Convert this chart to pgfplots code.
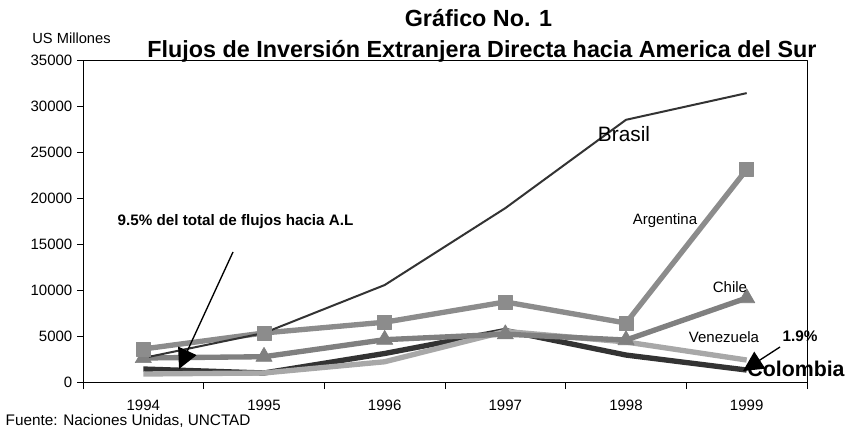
\documentclass[border=0pt]{standalone}
\usepackage{pgfplots}
\pgfplotsset{compat=1.18}
\usepackage{fontspec}
\setmainfont{Liberation Sans}
\usetikzlibrary{arrows.meta}
\definecolor{cdark}{HTML}{333333}
\definecolor{carg}{HTML}{8C8C8C}
\definecolor{cchi}{HTML}{808080}
\definecolor{cven}{HTML}{A8A8A8}
\begin{document}
\begin{tikzpicture}[x=0.75pt,y=0.75pt]
\path[use as bounding box] (0,0) rectangle (847,429);
\begin{axis}[at={(62.25pt,35.25pt)}, anchor=south west, scale only axis,
  width=543pt, height=241.5pt,
  xmin=1993.5, xmax=1999.5, ymin=0, ymax=35000,
  xtick={1994,1995,1996,1997,1998,1999},
  xticklabels={1994,1995,1996,1997,1998,1999},
  minor xtick={1993.5,1994.5,1995.5,1996.5,1997.5,1998.5,1999.5},
  major x tick style={draw=none},
  ytick={0,5000,10000,15000,20000,25000,30000,35000},
  scaled y ticks=false,
  yticklabel style={/pgf/number format/1000 sep={}},
  /pgf/number format/assume math mode=true,
  tick align=outside, tick pos=left,
  major tick length=4.5pt, minor tick length=5.25pt,
  axis line style={black, line width=0.75pt},
  tick style={black, line width=0.75pt},
  tick label style={font=\fontsize{11.25}{13}\selectfont},
  xticklabel style={yshift=-5.5pt},
  line join=round,
]
\addplot[cdark, line width=4pt, no markers] coordinates {(1994,1410) (1995,980) (1996,3100) (1997,5600) (1998,2930) (1999,1300)};
\addplot[cven, line width=4pt, no markers] coordinates {(1994,870) (1995,980) (1996,2200) (1997,5500) (1998,4350) (1999,2390)};
\addplot[cchi, line width=4pt, mark=triangle*, mark size=7pt, mark options={solid, fill=cchi, draw=cchi, line width=0.5pt}] coordinates {(1994,2610) (1995,2750) (1996,4600) (1997,5200) (1998,4560) (1999,9130)};
\addplot[carg, line width=4pt, mark=square*, mark size=5.25pt, mark options={solid, fill=carg, draw=carg, line width=0.5pt}] coordinates {(1994,3590) (1995,5330) (1996,6500) (1997,8700) (1998,6410) (1999,23100)};
\addplot[cdark, line width=1.5pt, no markers] coordinates {(1994,2610) (1995,5330) (1996,10540) (1997,18900) (1998,28500) (1999,31400)};
\end{axis}
% titles
\node[anchor=base, font=\bfseries\fontsize{17.5}{20}\selectfont] at (478.5,402) {Gráfico No. 1};
\node[anchor=base, font=\bfseries\fontsize{17.5}{20}\selectfont] at (482,371) {Flujos de Inversión Extranjera Directa hacia America del Sur};
\node[anchor=base, font=\fontsize{11}{13}\selectfont] at (71.5,385) {US Millones};
\node[anchor=base west, font=\fontsize{11.5}{13}\selectfont] at (1,4) {Fuente: Naciones Unidas, UNCTAD};
% annotations
\node[anchor=base west, font=\bfseries\fontsize{11.4}{13}\selectfont] at (113,203) {9.5\% del total de flujos hacia A.L};
\draw[line width=1pt, -{Triangle[length=15pt,width=15pt]}] (233,177) -- (179,60);
\node[anchor=base, font=\fontsize{15.6}{18}\selectfont] at (624,287) {Brasil};
\node[anchor=base, font=\fontsize{11.25}{13}\selectfont] at (665,204) {Argentina};
\node[anchor=base, font=\fontsize{11.25}{13}\selectfont] at (730,136) {Chile};
\node[anchor=base, font=\fontsize{11.25}{13}\selectfont] at (724,86) {Venezuela};
\node[anchor=base, font=\bfseries\fontsize{11.5}{13}\selectfont] at (800,88) {1.9\%};
\draw[line width=1pt, -{Triangle[length=15pt,width=15pt]}] (780,82) -- (743,58);
\node[anchor=base, font=\bfseries\fontsize{16}{18}\selectfont] at (796,52) {Colombia};
\end{tikzpicture}
\end{document}
